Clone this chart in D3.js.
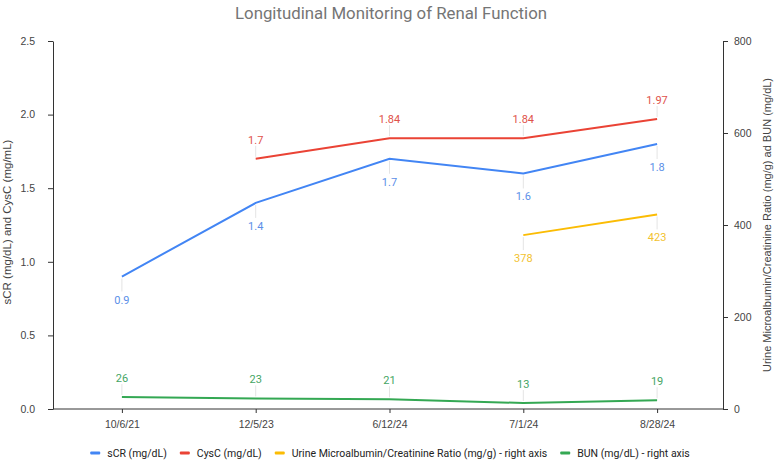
<!DOCTYPE html>
<html>
<head>
<meta charset="utf-8">
<script src="https://cdn.jsdelivr.net/npm/d3@7"></script>
<style>
  body { margin: 0; background: #fff; overflow: hidden; }
  svg { display: block; }
  text { font-family: Roboto, "Liberation Sans", Arial, sans-serif; }
</style>
</head>
<body>
<div id="chart-container"></div>
<script>
// data
const dates = ['10/6/21', '12/5/23', '6/12/24', '7/1/24', '8/28/24'];
const sCR = [0.9, 1.4, 1.7, 1.6, 1.8];
const cysC = [null, 1.7, 1.84, 1.84, 1.97];
const uacr = [null, null, null, 378, 423];
const bun = [26, 23, 21, 13, 19];
const leftTicks = [0, 0.5, 1.0, 1.5, 2.0, 2.5];
const rightTicks = [0, 200, 400, 600, 800];

const width = 780;
const height = 463;
const margin = { top: 41, right: 57, bottom: 54, left: 53 };
const axisFont = '"Liberation Sans", Arial, sans-serif';

const svg = d3.select('#chart-container')
  .append('svg')
  .attr('width', width)
  .attr('height', height);

const x = d3.scalePoint()
  .domain(dates)
  .range([margin.left + 2, width - margin.right + 1])
  .padding(0.5);

const yL = d3.scaleLinear()
  .domain([0, 2.5])
  .range([height - margin.bottom, margin.top]);

const yR = d3.scaleLinear()
  .domain([0, 800])
  .range([height - margin.bottom, margin.top]);

// series definitions
const series = [
  { name: 'sCR (mg/dL)', values: sCR, scale: yL, color: '#4285F4', label: '#5b8fe8', pos: 'below' },
  { name: 'CysC (mg/dL)', values: cysC, scale: yL, color: '#EA4335', label: '#e0524a', pos: 'above' },
  { name: 'Urine Microalbumin/Creatinine Ratio (mg/g) - right axis', values: uacr, scale: yR, color: '#FBBC04', label: '#f2c230', pos: 'below' },
  { name: 'BUN (mg/dL) - right axis', values: bun, scale: yR, color: '#34A853', label: '#45a564', pos: 'above' }
];

// Title
svg.append('text')
  .attr('x', 391)
  .attr('y', 19)
  .attr('text-anchor', 'middle')
  .attr('font-size', '17px')
  .attr('fill', '#757575')
  .attr('textLength', 312)
  .attr('lengthAdjust', 'spacingAndGlyphs')
  .text('Longitudinal Monitoring of Renal Function');

// Axes
const axisL = svg.append('g')
  .attr('transform', `translate(${margin.left},0)`)
  .call(d3.axisLeft(yL).tickValues(leftTicks).tickFormat(d3.format('.1f'))
    .tickSize(5).tickPadding(13).tickSizeOuter(0));

const axisR = svg.append('g')
  .attr('transform', `translate(${width - margin.right},0)`)
  .call(d3.axisRight(yR).tickValues(rightTicks).tickSize(5).tickPadding(6).tickSizeOuter(0));

const axisB = svg.append('g')
  .attr('transform', `translate(0,${height - margin.bottom})`)
  .call(d3.axisBottom(x).tickSize(4).tickPadding(8).tickSizeOuter(0));

axisB.select('.domain').remove();
svg.append('line')
  .attr('x1', margin.left)
  .attr('x2', width - margin.right)
  .attr('y1', height - margin.bottom)
  .attr('y2', height - margin.bottom)
  .attr('stroke', '#333');

[axisL, axisR, axisB].forEach(g => {
  g.select('.domain').attr('stroke', '#333');
  g.selectAll('.tick line').attr('stroke', '#333');
  g.selectAll('.tick text')
    .attr('fill', '#444')
    .attr('font-size', '10.5px')
    .style('font-family', axisFont);
});

// Axis titles
const midY = (margin.top + (height - margin.bottom)) / 2;

svg.append('text')
  .attr('transform', 'rotate(-90)')
  .attr('x', -222)
  .attr('y', 11)
  .attr('text-anchor', 'middle')
  .attr('font-size', '11.5px')
  .attr('fill', '#444')
  .style('font-family', axisFont)
  .text('sCR (mg/dL) and CysC (mg/mL)');

svg.append('text')
  .attr('transform', 'rotate(-90)')
  .attr('x', -midY)
  .attr('y', 771)
  .attr('text-anchor', 'middle')
  .attr('font-size', '11px')
  .attr('fill', '#444')
  .style('font-family', axisFont)
  .text('Urine Microalbumin/Creatinine Ratio (mg/g) ad BUN (mg/dL)');

// Lines + labels
series.forEach(s => {
  const pts = dates.map((d, i) => ({ d, v: s.values[i] }));
  const line = d3.line()
    .defined(p => p.v != null)
    .x(p => x(p.d))
    .y(p => s.scale(p.v));

  svg.append('path')
    .datum(pts)
    .attr('fill', 'none')
    .attr('stroke', s.color)
    .attr('stroke-width', 2)
    .attr('d', line);

  const below = s.pos === 'below';
  const shown = pts.filter(p => p.v != null);

  // faint annotation stems
  svg.selectAll(null)
    .data(shown)
    .enter().append('line')
    .attr('x1', p => x(p.d))
    .attr('x2', p => x(p.d))
    .attr('y1', p => s.scale(p.v) + (below ? 2 : -2))
    .attr('y2', p => s.scale(p.v) + (below ? 15 : -13))
    .attr('stroke', '#e4e4e4')
    .attr('stroke-width', 1);

  svg.selectAll(null)
    .data(shown)
    .enter().append('text')
    .attr('x', p => x(p.d))
    .attr('y', p => s.scale(p.v) + (below ? 27 : -15))
    .attr('text-anchor', 'middle')
    .attr('font-size', '11px')
    .attr('fill', s.label)
    .text(p => p.v);
});

// Legend
const legendY = 453;
const legendGap = 13;
const legend = svg.append('g');
let lx = 0;
const items = legend.selectAll('g')
  .data(series)
  .enter().append('g');

items.append('rect')
  .attr('width', 10)
  .attr('height', 3)
  .attr('y', -1.5)
  .attr('rx', 1)
  .attr('fill', d => d.color);

items.append('text')
  .attr('x', 17)
  .attr('dy', '0.35em')
  .attr('font-size', '10.5px')
  .attr('fill', '#222')
  .text(d => d.name);

items.each(function () {
  const w = this.getBBox().width;
  d3.select(this).attr('transform', `translate(${lx},0)`);
  lx += w + legendGap;
});
lx -= legendGap;
legend.attr('transform', `translate(${(width - lx) / 2}, ${legendY})`);
</script>
</body>
</html>
